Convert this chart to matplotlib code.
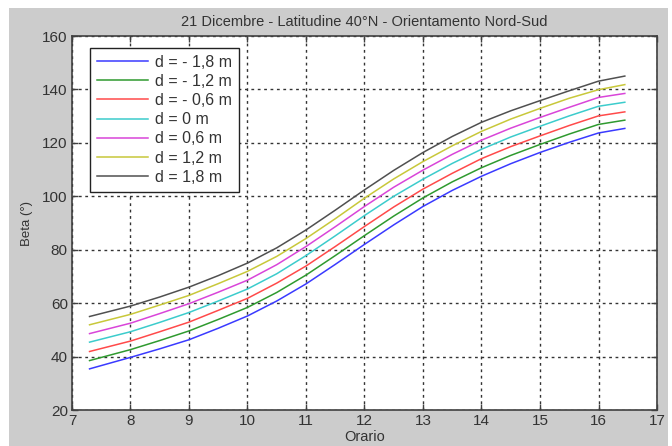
import matplotlib
matplotlib.use('Agg')
import matplotlib.pyplot as plt
import matplotlib.patches as mpatches

# ── data ─────────────────────────────────────────────────
orario = [7.3, 8, 8.5, 9, 9.5, 10, 10.5, 11, 11.5, 12, 12.5, 13, 13.5, 14, 14.5, 15, 15.5, 16, 16.45]

beta_m18 = [35.4, 39.7, 42.9, 46.3, 50.6, 55.2, 60.8, 67.2, 74.5, 82.0, 89.3, 96.2, 102.2, 107.5, 112.2, 116.4, 120.2, 123.7, 125.4]
beta_m12 = [38.5, 42.6, 46.0, 49.6, 53.9, 58.4, 64.0, 70.5, 77.8, 85.3, 92.6, 99.4, 105.4, 110.7, 115.3, 119.4, 123.3, 126.9, 128.5]
beta_m06 = [41.9, 45.8, 49.3, 52.9, 57.3, 61.8, 67.5, 73.9, 81.2, 88.7, 96.0, 102.7, 108.6, 114.1, 118.6, 122.6, 126.5, 130.1, 131.6]
beta_0   = [45.4, 49.3, 52.8, 56.5, 60.8, 65.3, 71.0, 77.8, 85.2, 92.8, 100.0, 106.4, 112.3, 117.6, 122.2, 126.2, 130.1, 133.7, 135.2]
beta_p06 = [48.6, 52.5, 56.1, 59.8, 64.1, 68.6, 74.4, 81.2, 88.6, 96.2, 103.4, 109.8, 115.7, 121.0, 125.5, 129.5, 133.3, 137.0, 138.5]
beta_p12 = [51.9, 55.8, 59.3, 62.9, 67.3, 71.9, 77.5, 84.2, 91.6, 99.3, 106.5, 113.0, 118.9, 124.3, 128.9, 132.9, 136.7, 139.9, 141.8]
beta_p18 = [55.0, 58.9, 62.3, 66.0, 70.3, 75.0, 80.7, 87.4, 94.8, 102.4, 109.7, 116.4, 122.4, 127.7, 132.0, 135.8, 139.5, 143.1, 145.0]

labels = ['d = - 1,8 m', 'd = - 1,2 m', 'd = - 0,6 m', 'd = 0 m',
          'd = 0,6 m', 'd = 1,2 m', 'd = 1,8 m']
series = [beta_m18, beta_m12, beta_m06, beta_0, beta_p06, beta_p12, beta_p18]
colors = ['#3a3aff', '#2f9a2f', '#ff4a4a', '#3ccccc', '#d945d9', '#c8c83a', '#505050']

xticks = list(range(7, 18))
yticks = list(range(20, 161, 20))

plt.rcParams['font.family'] = ['Liberation Sans', 'DejaVu Sans']

fig = plt.figure(figsize=(6.72, 4.46), dpi=100)
fig.patch.set_facecolor('white')
# grey MATLAB-style figure panel, kept behind the axes
bg = mpatches.Rectangle((9/672, 0), 659/672, 438/446, transform=fig.transFigure,
    facecolor='#cccccc', edgecolor='none', zorder=-10)
fig.add_artist(bg)

ax = fig.add_axes([72/672, 36/446, 585/672, 374/446])
ax.set_zorder(1)
ax.set_facecolor('white')

for vals, lbl, c in zip(series, labels, colors):
    ax.plot(orario, vals, color=c, lw=1.1, label=lbl, zorder=3)

ax.set_xlim(7, 17); ax.set_ylim(20, 160)
ax.set_xticks(xticks); ax.set_yticks(yticks)
ax.grid(True, color='#333333', linestyle=(0, (2, 2.6)), linewidth=1.0)
ax.tick_params(direction='in', length=4, width=1, top=True, right=True,
               labelsize=11, colors='#404040', labelcolor='#333333', pad=3)
for sp in ax.spines.values():
    sp.set_color('#404040'); sp.set_linewidth(1.2)

ax.set_title('21 Dicembre - Latitudine 40°N - Orientamento Nord-Sud',
             fontsize=10.5, color='#333333', pad=7)
ax.set_xlabel('Orario', fontsize=10.5, color='#333333', labelpad=1)
ax.set_ylabel('Beta (°)', fontsize=9.5, color='#333333', labelpad=7)

leg = ax.legend(loc='upper left', bbox_to_anchor=(0.031, 0.969), fontsize=11.5,
    frameon=True, fancybox=False, framealpha=1, edgecolor='#222222',
    handlelength=3.2, handletextpad=0.4, labelspacing=0.26, borderpad=0.45,
    borderaxespad=0)
leg.get_frame().set_linewidth(1.0)
for t in leg.get_texts():
    t.set_color('#333333')

plt.savefig('out.png', dpi=100, facecolor=fig.get_facecolor())
